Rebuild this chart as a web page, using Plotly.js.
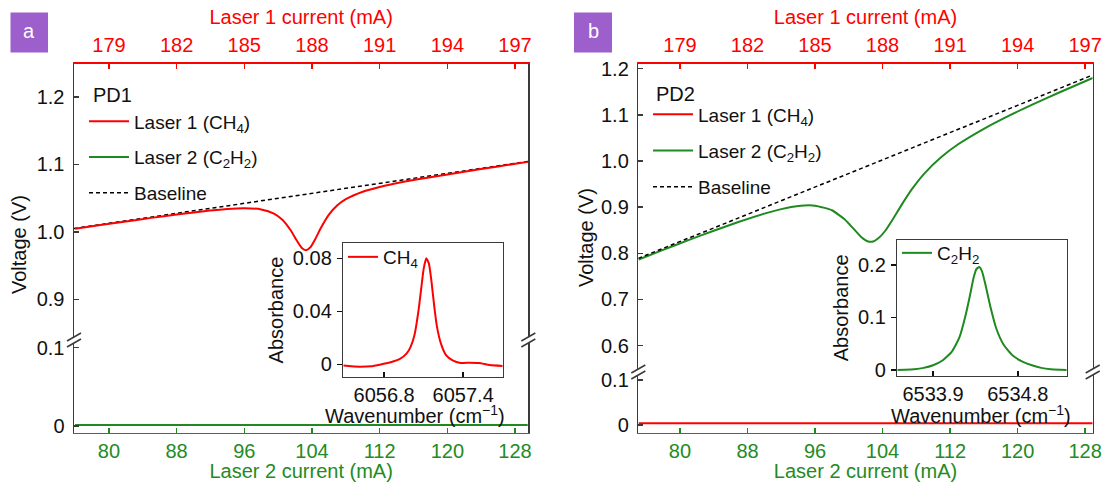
<!DOCTYPE html>
<html>
<head>
<meta charset="utf-8">
<script src="https://cdn.plot.ly/plotly-3.0.1.min.js"></script>
<style>html,body{margin:0;padding:0;background:#fff;}#chart{width:1104px;height:482px;}</style>
</head>
<body>
<div id="chart"></div>
<script>
// ---------------- DATA ----------------
// Panel a (PD1): x = Laser 2 current (mA)
const pd1Current = [76, 79, 82, 85, 88, 91, 94, 96, 98, 99.5, 100.5, 101.5, 102.2, 102.8, 103.3, 103.8, 104.4, 105, 106, 107, 108, 110, 112, 115, 118, 122, 126, 129.5];
const pd1Laser1 = [1.0047, 1.0101, 1.0154, 1.0207, 1.0257, 1.0303, 1.0339, 1.0350, 1.0332, 1.0271, 1.0180, 1.0020, 0.9871, 0.9760, 0.9728, 0.9770, 0.9895, 1.0046, 1.0255, 1.0393, 1.0484, 1.0595, 1.0665, 1.0745, 1.0810, 1.0892, 1.0970, 1.1037];
const pd1BaselineX = [75.87, 129.57];
const pd1BaselineY = [1.005, 1.1044];
const pd1Laser2X = [76, 80, 84, 88, 92, 96, 100, 104, 108, 112, 116, 120, 124, 129.5];
const pd1Laser2Y = [0.0013, 0.0012, 0.0014, 0.0013, 0.0012, 0.0013, 0.0014, 0.0013, 0.0012, 0.0013, 0.0014, 0.0013, 0.0012, 0.0013];

// Panel b (PD2)
const pd2Current = [75.1, 78, 81, 84, 87, 90, 92, 94, 96, 98, 99.5, 100.5, 101.5, 102.3, 102.9, 103.5, 104.3, 105.2, 106.2, 107.5, 109, 111, 113, 116, 119, 122, 125, 128.9];
const pd2Laser2 = [0.7866, 0.8073, 0.8284, 0.8489, 0.8682, 0.8860, 0.8957, 0.9024, 0.9032, 0.8932, 0.8736, 0.8544, 0.8348, 0.8255, 0.8256, 0.8324, 0.8483, 0.8733, 0.9033, 0.9395, 0.9738, 1.0090, 1.0366, 1.0697, 1.0983, 1.1241, 1.1488, 1.1796];
const pd2BaselineX = [75.06, 128.9];
const pd2BaselineY = [0.789, 1.186];
const pd2Laser1X = [75.1, 79, 83, 87, 91, 95, 99, 103, 107, 111, 115, 119, 123, 128.9];
const pd2Laser1Y = [0.0040, 0.0038, 0.0041, 0.0039, 0.0037, 0.0040, 0.0039, 0.0041, 0.0038, 0.0040, 0.0039, 0.0041, 0.0038, 0.0040];

// Inset a: CH4 absorbance vs wavenumber
const ch4Wn = [6056.49, 6056.55, 6056.62, 6056.70, 6056.78, 6056.85, 6056.92, 6056.97, 6057.00, 6057.03, 6057.06, 6057.08, 6057.10, 6057.12, 6057.14, 6057.16, 6057.18, 6057.20, 6057.23, 6057.27, 6057.32, 6057.38, 6057.45, 6057.52, 6057.60, 6057.70];
const ch4Abs = [-0.0010, -0.0015, -0.0018, -0.0015, 0.0000, 0.0015, 0.0040, 0.0080, 0.0130, 0.0220, 0.0400, 0.0560, 0.0720, 0.0800, 0.0760, 0.0620, 0.0440, 0.0290, 0.0160, 0.0070, 0.0030, 0.0010, 0.0012, 0.0010, -0.0005, -0.0012];

// Inset b: C2H2 absorbance vs wavenumber
const c2h2Wn = [6533.52, 6533.60, 6533.70, 6533.80, 6533.90, 6534.00, 6534.10, 6534.18, 6534.24, 6534.29, 6534.33, 6534.36, 6534.39, 6534.42, 6534.46, 6534.51, 6534.57, 6534.65, 6534.75, 6534.85, 6534.95, 6535.05, 6535.15, 6535.25, 6535.32];
const c2h2Abs = [0.0000, 0.0005, 0.0015, 0.0040, 0.0090, 0.0180, 0.0350, 0.0620, 0.1000, 0.1400, 0.1750, 0.1920, 0.1960, 0.1880, 0.1600, 0.1200, 0.0800, 0.0480, 0.0270, 0.0160, 0.0090, 0.0040, 0.0015, 0.0005, 0.0000];

// Tick labels
const laser2Ticks = [80, 88, 96, 104, 112, 120, 128];
const laser1Ticks = [179, 182, 185, 188, 191, 194, 197];
const pd1UpperTicks = [0.9, 1.0, 1.1, 1.2];
const pd1UpperLabels = ['0.9', '1.0', '1.1', '1.2'];
const pd2UpperTicks = [0.6, 0.7, 0.8, 0.9, 1.0, 1.1, 1.2];
const pd2UpperLabels = ['0.6', '0.7', '0.8', '0.9', '1.0', '1.1', '1.2'];
const lowerTicks = [0, 0.1];
const lowerLabels = ['0', '0.1'];
const ch4XTicks = [6056.8, 6057.4];
const ch4YTicks = [0, 0.04, 0.08];
const ch4YLabels = ['0', '0.04', '0.08'];
const c2h2XTicks = [6533.9, 6534.8];
const c2h2YTicks = [0, 0.1, 0.2];
const c2h2YLabels = ['0', '0.1', '0.2'];

// ---------------- STYLE / GEOMETRY ----------------
const W = 1104, H = 482;
const px = v => v / W;
const py = v => 1 - v / H;
const RED = '#ff0000';
const GREEN = '#1f8a1f';
const GTEXT = '#238b23';
const FRAME = '#3a3a3a';
const FONT = 'Liberation Sans, Arial, sans-serif';
const FS = 20;

// laser 1 current scale relative to laser 2 current: 179 mA <-> 80 mA, 3 mA per 8 mA
const toLaser1 = v => 179 + (v - 80) * 3 / 8;

const A = {l: 74, r: 528.3, t: 63.5, brk: 340, b: 432.7, xr: [75.87, 129.57], yU: [0.8397, 1.2495], yL: [-0.0086, 0.1099]};
const B = {l: 638.3, r: 1092.7, t: 63.5, brk: 372, b: 432.7, xr: [75.06, 128.9], yU: [0.543, 1.211], yL: [-0.0171, 0.1178]};

function bottomAxis(P, anchor) {
  return {domain: [px(P.l), px(P.r)], range: P.xr, anchor: anchor, tickvals: laser2Ticks,
    ticks: 'inside', ticklen: 5, tickwidth: 1.5, tickcolor: GREEN, showline: true, linecolor: GREEN, linewidth: 1.5,
    tickfont: {color: GTEXT, size: FS, family: FONT}, ticklabelstandoff: 0,
    title: {text: 'Laser 2 current (mA)', font: {color: GTEXT, size: FS, family: FONT}, standoff: 3},
    showgrid: false, zeroline: false, fixedrange: true};
}
function topAxis(P, over, anchor) {
  return {overlaying: over, side: 'top', anchor: anchor, range: P.xr.map(toLaser1), tickvals: laser1Ticks,
    ticks: 'inside', ticklen: 5, tickwidth: 1.5, tickcolor: RED, showline: true, linecolor: RED, linewidth: 1.5,
    tickfont: {color: RED, size: FS, family: FONT}, ticklabelstandoff: 2,
    title: {text: 'Laser 1 current (mA)', font: {color: RED, size: FS, family: FONT}, standoff: 4},
    showgrid: false, zeroline: false, fixedrange: true};
}
function leftAxis(dom, range, vals, labels, anchor) {
  return {domain: dom, range: range, anchor: anchor, tickvals: vals, ticktext: labels,
    ticks: 'inside', ticklen: 5, tickwidth: 1.5, tickcolor: FRAME, showline: true, mirror: true, linecolor: FRAME, linewidth: 1.5,
    tickfont: {color: '#111', size: FS, family: FONT}, ticklabelstandoff: 4,
    showgrid: false, zeroline: false, fixedrange: true};
}
function insetX(dom, range, vals, anchor) {
  return {domain: dom, range: range, anchor: anchor, tickvals: vals, ticktext: vals.map(v => v.toFixed(1)),
    ticks: 'inside', ticklen: 5, tickwidth: 1.5, tickcolor: '#111', showline: true, mirror: true, linecolor: FRAME, linewidth: 1.5,
    tickfont: {color: '#111', size: FS, family: FONT}, ticklabelstandoff: 0,
    showgrid: false, zeroline: false, fixedrange: true};
}
function insetY(dom, range, vals, labels, anchor) {
  return {domain: dom, range: range, anchor: anchor, tickvals: vals, ticktext: labels,
    ticks: 'outside', ticklen: 5, tickwidth: 1.5, tickcolor: '#111', showline: true, mirror: true, linecolor: FRAME, linewidth: 1.5,
    tickfont: {color: '#111', size: FS, family: FONT}, ticklabelstandoff: 1,
    title: {text: 'Absorbance', font: {color: '#111', size: FS, family: FONT}, standoff: 4},
    showgrid: false, zeroline: false, fixedrange: true};
}

const smooth = {shape: 'spline', smoothing: 0.5};
const traces = [
  // panel a: Laser 1 trace is plotted against the Laser 1 current (top) axis
  {x: pd1Current.map(toLaser1), y: pd1Laser1, xaxis: 'x2', yaxis: 'y2', mode: 'lines', name: 'Laser 1 (CH<sub>4</sub>)',
   line: Object.assign({color: RED, width: 2}, smooth), legend: 'legend', legendgroup: 'a1'},
  {x: pd1Laser2X, y: pd1Laser2Y, xaxis: 'x', yaxis: 'y', mode: 'lines', name: 'Laser 2 (C<sub>2</sub>H<sub>2</sub>)',
   line: {color: GREEN, width: 2}, legend: 'legend', legendgroup: 'a2'},
  {x: pd1BaselineX, y: pd1BaselineY, xaxis: 'x', yaxis: 'y2', mode: 'lines', name: 'Baseline',
   line: {color: '#000', width: 1.5, dash: '4px,3px'}, legend: 'legend', legendgroup: 'a3'},
  // panel b
  {x: pd2Laser1X.map(toLaser1), y: pd2Laser1Y, xaxis: 'x4', yaxis: 'y3', mode: 'lines', name: 'Laser 1 (CH<sub>4</sub>)',
   line: {color: RED, width: 2}, legend: 'legend2', legendgroup: 'b1'},
  {x: pd2Current, y: pd2Laser2, xaxis: 'x3', yaxis: 'y4', mode: 'lines', name: 'Laser 2 (C<sub>2</sub>H<sub>2</sub>)',
   line: Object.assign({color: GREEN, width: 2}, smooth), legend: 'legend2', legendgroup: 'b2'},
  {x: pd2BaselineX, y: pd2BaselineY, xaxis: 'x3', yaxis: 'y4', mode: 'lines', name: 'Baseline',
   line: {color: '#000', width: 1.5, dash: '4px,3px'}, legend: 'legend2', legendgroup: 'b3'},
  // insets
  {x: ch4Wn, y: ch4Abs, xaxis: 'x5', yaxis: 'y5', mode: 'lines', name: 'CH<sub>4</sub>',
   line: Object.assign({color: RED, width: 2}, smooth), legend: 'legend3'},
  {x: c2h2Wn, y: c2h2Abs, xaxis: 'x6', yaxis: 'y6', mode: 'lines', name: 'C<sub>2</sub>H<sub>2</sub>',
   line: Object.assign({color: GREEN, width: 2}, smooth), legend: 'legend4'}
];

function legendAt(xPix, yPix, gap, iw, fs) {
  return {x: px(xPix), y: py(yPix), xanchor: 'left', yanchor: 'top', bgcolor: 'rgba(0,0,0,0)', borderwidth: 0,
    font: {size: fs, family: FONT, color: '#111'}, tracegroupgap: gap, itemwidth: iw, traceorder: 'grouped'};
}

function breakMarks(xref, yPaper) {
  const out = [];
  [0, 1].forEach(side => {
    out.push({type: 'rect', xref: xref, yref: 'paper', xsizemode: 'pixel', ysizemode: 'pixel', xanchor: side, yanchor: yPaper,
      x0: -3, x1: 3, y0: -3, y1: 3, fillcolor: '#fff', line: {width: 0}, layer: 'above'});
    out.push({type: 'line', xref: xref, yref: 'paper', xsizemode: 'pixel', ysizemode: 'pixel', xanchor: side, yanchor: yPaper,
      x0: -7, x1: 7, y0: -7, y1: 1, line: {color: FRAME, width: 1.5}, layer: 'above'});
    out.push({type: 'line', xref: xref, yref: 'paper', xsizemode: 'pixel', ysizemode: 'pixel', xanchor: side, yanchor: yPaper,
      x0: -7, x1: 7, y0: -1, y1: 7, line: {color: FRAME, width: 1.5}, layer: 'above'});
  });
  return out;
}

function note(text, xPix, yPix, opts) {
  return Object.assign({text: text, x: px(xPix), y: py(yPix), xref: 'paper', yref: 'paper', xanchor: 'center', yanchor: 'middle',
    showarrow: false, font: {size: FS, family: FONT, color: '#111'}}, opts || {});
}

const PURPLE = '#9c5fcb';
const layout = {
  width: W, height: H, margin: {l: 0, r: 0, t: 0, b: 0},
  paper_bgcolor: '#fff', plot_bgcolor: '#fff', showlegend: true,
  font: {family: FONT, size: FS, color: '#111'},
  // panel a
  xaxis: bottomAxis(A, 'y'),
  xaxis2: topAxis(A, 'x', 'y2'),
  yaxis: leftAxis([py(A.b), py(A.brk)], A.yL, lowerTicks, lowerLabels, 'x'),
  yaxis2: leftAxis([py(A.brk), py(A.t)], A.yU, pd1UpperTicks, pd1UpperLabels, 'x'),
  // panel b
  xaxis3: bottomAxis(B, 'y3'),
  xaxis4: topAxis(B, 'x3', 'y4'),
  yaxis3: leftAxis([py(B.b), py(B.brk)], B.yL, lowerTicks, lowerLabels, 'x3'),
  yaxis4: leftAxis([py(B.brk), py(B.t)], B.yU, pd2UpperTicks, pd2UpperLabels, 'x3'),
  // insets
  xaxis5: insetX([px(343.3), px(502.7)], [6056.49, 6057.70], ch4XTicks, 'y5'),
  yaxis5: insetY([py(376.7), py(243.3)], [-0.00936, 0.0913], ch4YTicks, ch4YLabels, 'x5'),
  xaxis6: insetX([px(897.3), px(1066.7)], [6533.52, 6535.32], c2h2XTicks, 'y6'),
  yaxis6: insetY([py(375.7), py(240)], [-0.0109, 0.2476], c2h2YTicks, c2h2YLabels, 'x6'),
  legend: legendAt(84, 102.5, 8, 40, 19),
  legend2: legendAt(648, 95.5, 8.5, 40, 19),
  legend3: legendAt(343, 238, 0, 30, 19),
  legend4: legendAt(897, 234, 0, 30, 19),
  shapes: [
    {type: 'rect', xref: 'paper', yref: 'paper', x0: px(10.5), x1: px(48), y0: py(52.5), y1: py(12.5), fillcolor: PURPLE, line: {width: 0}},
    {type: 'rect', xref: 'paper', yref: 'paper', x0: px(574), x1: px(612), y0: py(52.5), y1: py(12.5), fillcolor: PURPLE, line: {width: 0}}
  ].concat(breakMarks('x domain', py(A.brk))).concat(breakMarks('x3 domain', py(B.brk))),
  annotations: [
    note('a', 29.3, 31, {font: {color: '#fff', size: FS, family: FONT}}),
    note('b', 593, 31, {font: {color: '#fff', size: FS, family: FONT}}),
    note('PD1', 91, 95, {xanchor: 'left'}),
    note('PD2', 654, 94, {xanchor: 'left'}),
    note('Voltage (V)', 19, 245, {textangle: -90}),
    note('Voltage (V)', 586, 238, {textangle: -90}),
    note('Wavenumber (cm<sup>−1</sup>)', 415, 414),
    note('Wavenumber (cm<sup>−1</sup>)', 981, 414)
  ]
};

Plotly.newPlot('chart', traces, layout, {staticPlot: true, displayModeBar: false});
</script>
</body>
</html>
